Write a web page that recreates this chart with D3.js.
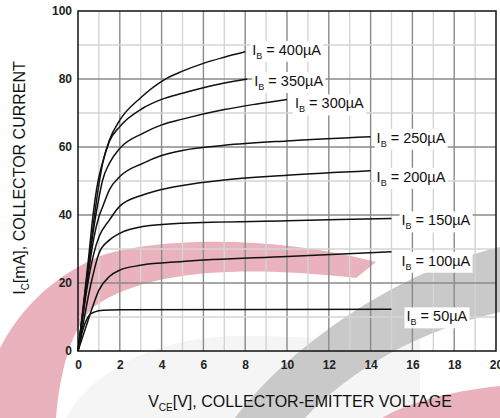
<!DOCTYPE html>
<html>
<head>
<meta charset="utf-8">
<script src="https://cdn.jsdelivr.net/npm/d3@7"></script>
<style>
  html, body { margin: 0; padding: 0; background: #fff; }
  svg { display: block; font-family: "Liberation Sans", Arial, sans-serif; }
</style>
</head>
<body>
<svg id="chart" width="500" height="418"></svg>
<script>
// base current of each curve, in uA
const baseCurrents = [400, 350, 300, 250, 200, 150, 100, 50];

// each curve as [V_CE (V), I_C (mA)]
const curve400 = [[0, 0], [0.25, 13], [0.5, 27], [0.72, 40], [0.9, 48], [1.2, 56], [1.5, 62], [2, 67.9], [3, 74.5], [4.1, 79.7], [5, 82.3], [6, 84.6], [7, 86.4], [8, 88]];
const curve350 = [[0, 0], [0.25, 12.5], [0.5, 25.5], [0.75, 38], [1.0, 49], [1.18, 55.2], [1.5, 61.6], [2, 66], [3.1, 71.4], [4, 74], [5, 75.8], [6, 77.4], [7, 78.8], [8.1, 80]];
const curve300 = [[0, 0], [0.25, 12], [0.5, 24.5], [0.75, 36], [1.0, 45], [1.18, 50.3], [1.5, 55.2], [2, 59.6], [3.1, 64], [4, 66.5], [5, 68.2], [7, 71], [8.5, 72.6], [10, 74]];
const curve250 = [[0, 0], [0.25, 11.5], [0.5, 23], [0.75, 33], [1.0, 39.5], [1.18, 42.4], [1.5, 47.4], [2, 51.3], [3.1, 55.2], [4, 57.5], [5, 59], [7, 60.5], [10, 61.8], [14, 63]];
const curve200 = [[0, 0], [0.25, 11], [0.5, 21], [0.75, 28.5], [1.0, 33.5], [1.5, 38.5], [2, 42.6], [3.1, 45.9], [4, 47.5], [5, 48.7], [7, 50.3], [10, 51.7], [14, 53]];
const curve150 = [[0, 0], [0.22, 7], [0.46, 15], [0.7, 21.9], [1.0, 28.7], [1.5, 32.6], [2, 34.6], [3.1, 36.6], [5, 37.6], [10, 38.3], [15, 39]];
const curve100 = [[0, 0], [0.38, 7.1], [0.7, 13], [1.0, 17.9], [1.5, 21.9], [2, 23.8], [3, 25.2], [5, 26.3], [10, 27.8], [15, 29.2]];
const curve50 = [[0, 0], [0.23, 6.2], [0.55, 10.6], [0.8, 11.5], [1.2, 12], [2, 12.1], [15, 12.25]];
const curves = [curve400, curve350, curve300, curve250, curve200, curve150, curve100, curve50];

// label placement relative to the end of each curve (pixels)
const labelOffset = [[7, 3], [7, 7], [8, 9], [6, 6], [6, 11], [10, 7], [10, 14], [15, 12]];

const xTicks = [0, 2, 4, 6, 8, 10, 12, 14, 16, 18, 20];
const yTicks = [0, 20, 40, 60, 80, 100];

const svg = d3.select("#chart");
const plotLeft = 78, plotRight = 496, plotTop = 11, plotBottom = 351;

const x = d3.scaleLinear().domain([0, 20]).range([plotLeft, plotRight]);
const y = d3.scaleLinear().domain([0, 100]).range([plotBottom, plotTop]);

// watermark in the background
const wm = svg.append("g").attr("class", "watermark");
wm.append("path")
    .attr("d", "M0,348 C20,310 50,278 100,256 C160,236 280,236 376,262 L356,278 C250,266 150,268 95,306 C72,326 60,370 56,418 L0,418 Z")
    .attr("fill", "#e9b2bd");
wm.append("path")
    .attr("d", "M66,418 C92,372 150,340 230,336 C300,334 360,346 420,332 L420,418 Z")
    .attr("fill", "#f5f5f5");
wm.append("path")
    .attr("d", "M235,418 C290,345 400,270 500,247 L500,312 C420,330 350,370 305,418 Z")
    .attr("fill", "#c9c9c9");
wm.append("path")
    .attr("d", "M382,418 C412,400 460,390 500,386 L500,418 Z")
    .attr("fill", "#e9b2bd");

// grid: every 1 V and every 10 mA, even ones darker
const grid = svg.append("g").attr("class", "grid");
grid.selectAll(".vx")
    .data(d3.range(1, 20))
    .enter().append("line")
    .attr("x1", d => x(d)).attr("x2", d => x(d))
    .attr("y1", plotTop).attr("y2", plotBottom)
    .attr("stroke", d => d % 2 === 0 ? "#8a8a8a" : "#d4d4d4")
    .attr("stroke-width", 1.4);
grid.selectAll(".hy")
    .data(d3.range(10, 100, 10))
    .enter().append("line")
    .attr("x1", plotLeft).attr("x2", plotRight)
    .attr("y1", d => y(d)).attr("y2", d => y(d))
    .attr("stroke", d => d % 20 === 0 ? "#8a8a8a" : "#d4d4d4")
    .attr("stroke-width", 1.4);

// frame
svg.append("rect")
    .attr("x", plotLeft).attr("y", plotTop)
    .attr("width", plotRight - plotLeft).attr("height", plotBottom - plotTop)
    .attr("fill", "none")
    .attr("stroke", "#111")
    .attr("stroke-width", 1.5);

// axis labels
const xAxis = d3.axisBottom(x).tickValues(xTicks).tickSize(0).tickPadding(9);
const yAxis = d3.axisLeft(y).tickValues(yTicks).tickSize(0).tickPadding(6);

const gx = svg.append("g").attr("transform", `translate(0,${plotBottom})`).call(xAxis);
const gy = svg.append("g").attr("transform", `translate(${plotLeft},0)`).call(yAxis);
[gx, gy].forEach(g => {
    g.select(".domain").remove();
    g.selectAll("text")
        .attr("font-family", "'Liberation Sans', Arial, sans-serif")
        .attr("font-size", 12)
        .attr("font-weight", "bold")
        .attr("fill", "#222");
});

// curves
const line = d3.line()
    .x(d => x(d[0]))
    .y(d => y(d[1]))
    .curve(d3.curveMonotoneX);

svg.append("g").selectAll("path")
    .data(curves)
    .enter().append("path")
    .attr("d", line)
    .attr("fill", "none")
    .attr("stroke", "#111")
    .attr("stroke-width", 1.5);

// curve labels with white backing
const labels = svg.append("g").attr("class", "labels");
baseCurrents.forEach((ib, i) => {
    const end = curves[i][curves[i].length - 1];
    const lx = x(end[0]) + labelOffset[i][0];
    const ly = y(end[1]) + labelOffset[i][1];
    const g = labels.append("g");
    const bg = g.append("rect").attr("fill", "#fff");
    const t = g.append("text")
        .attr("x", lx).attr("y", ly)
        .attr("font-size", 14.5)
        .attr("fill", "#111");
    t.append("tspan").text("I");
    t.append("tspan").attr("font-size", 9).attr("dy", 4).text("B");
    t.append("tspan").attr("dy", -4).text(" = " + ib + "\u00B5A");
    const bb = t.node().getBBox();
    bg.attr("x", bb.x - 2).attr("y", bb.y - 1)
        .attr("width", bb.width + 4).attr("height", bb.height + 2);
});

// axis titles
const yt = svg.append("text")
    .attr("transform", "translate(25,178) rotate(-90)")
    .attr("text-anchor", "middle")
    .attr("font-size", 16)
    .attr("fill", "#111");
yt.append("tspan").text("I");
yt.append("tspan").attr("font-size", 10).attr("dy", 4).text("C");
yt.append("tspan").attr("dy", -4).text("[mA], COLLECTOR CURRENT");

const xt = svg.append("text")
    .attr("x", 300).attr("y", 407)
    .attr("text-anchor", "middle")
    .attr("font-size", 16)
    .attr("fill", "#111");
xt.append("tspan").text("V");
xt.append("tspan").attr("font-size", 10).attr("dy", 4).text("CE");
xt.append("tspan").attr("dy", -4).text("[V], COLLECTOR-EMITTER VOLTAGE");
</script>
</body>
</html>
